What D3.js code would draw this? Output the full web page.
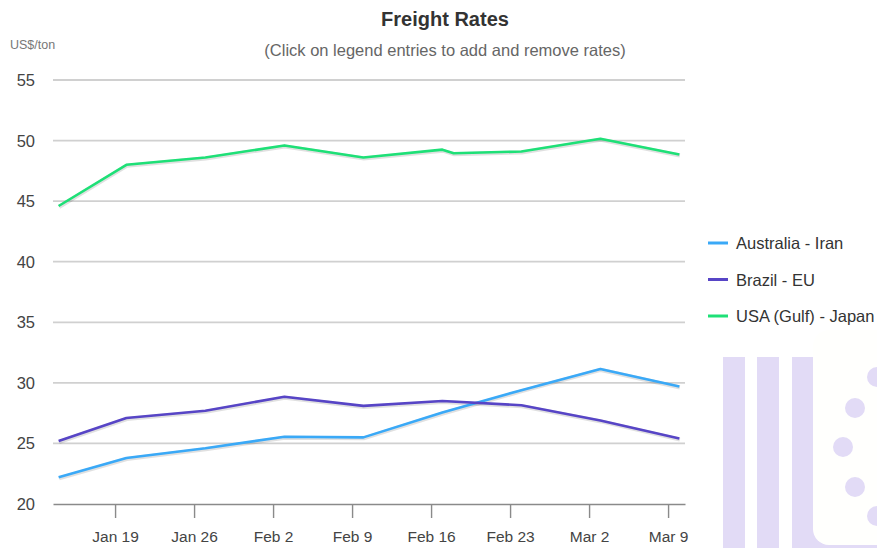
<!DOCTYPE html>
<html>
<head>
<meta charset="utf-8">
<script src="https://cdn.jsdelivr.net/npm/d3@7"></script>
<style>
  body { margin: 0; background: #fff; }
  svg { display: block; font-family: "Liberation Sans", Arial, sans-serif; }
</style>
</head>
<body>
<script>
// data (weekly freight rates, US$/ton)
const seriesNames = ["Australia - Iran", "Brazil - EU", "USA (Gulf) - Japan"]
const seriesColors = ["#3aa9f7", "#5745c6", "#1ee077"]

const weekDates = ["2025-01-14", "2025-01-20", "2025-01-27", "2025-02-03", "2025-02-10",
                   "2025-02-17", "2025-02-24", "2025-03-03", "2025-03-10"]
const usaDates = ["2025-01-14", "2025-01-20", "2025-01-27", "2025-02-03", "2025-02-10",
                  "2025-02-17", "2025-02-18", "2025-02-24", "2025-03-03", "2025-03-10"]

const australiaIran = [22.2, 23.8, 24.6, 25.55, 25.5, 27.55, 29.4, 31.15, 29.7]
const brazilEu = [25.2, 27.1, 27.7, 28.85, 28.1, 28.5, 28.15, 26.9, 25.4]
const usaJapan = [44.6, 48.0, 48.6, 49.6, 48.6, 49.25, 48.95, 49.1, 50.15, 48.85]

const yTicks = [20, 25, 30, 35, 40, 45, 50, 55]

const parse = d3.timeParse("%Y-%m-%d")
const zip = (dates, vals) => dates.map((d, i) => ({date: parse(d), value: vals[i]}))
const series = [
    {name: seriesNames[0], color: seriesColors[0], values: zip(weekDates, australiaIran)},
    {name: seriesNames[1], color: seriesColors[1], values: zip(weekDates, brazilEu)},
    {name: seriesNames[2], color: seriesColors[2], values: zip(usaDates, usaJapan)}
]

const w = 877
const h = 548
const plotLeft = 53, plotRight = 685, plotTop = 80, plotBottom = 504

const svg = d3.select("body").append("svg")
              .attr("width", w)
              .attr("height", h)

// watermark logo in the lower right corner
const logo = svg.append("g")
logo.selectAll("rect.bar")
    .data([723, 757, 792])
    .enter().append("rect")
    .attr("x", d => d).attr("y", 357)
    .attr("width", 22).attr("height", h - 357)
    .attr("fill", "#e2dbf6")
logo.append("rect").attr("x", 813).attr("y", 520).attr("width", 70).attr("height", 30).attr("fill", "#e2dbf6")
logo.append("rect").attr("x", 813).attr("y", 330).attr("width", 90).attr("height", 215)
    .attr("rx", 16).attr("fill", "#fffffd")
logo.selectAll("circle")
    .data([[877, 377], [855, 408], [843, 447], [855, 487], [877, 516]])
    .enter().append("circle")
    .attr("cx", d => d[0]).attr("cy", d => d[1]).attr("r", 10)
    .attr("fill", "#e2dbf6")

const allDates = weekDates.map(parse)
const x = d3.scaleTime()
            .domain([d3.timeHour.offset(allDates[0], -12), d3.timeHour.offset(allDates[allDates.length - 1], 12)])
            .range([plotLeft, plotRight])
const y = d3.scaleLinear()
            .domain([20, 55])
            .range([plotBottom, plotTop])

// gridlines
svg.append("g")
   .selectAll("line")
   .data(yTicks.filter(t => t !== 20))
   .enter().append("line")
   .attr("x1", plotLeft).attr("x2", plotRight)
   .attr("y1", d => y(d)).attr("y2", d => y(d))
   .attr("stroke", "#d0d0d0")
   .attr("stroke-width", 1.8)

// y labels
svg.append("g")
   .selectAll("text")
   .data(yTicks)
   .enter().append("text")
   .attr("x", 35)
   .attr("y", d => y(d) + 6)
   .attr("text-anchor", "end")
   .attr("font-size", 16.5)
   .attr("fill", "#444")
   .text(d => d)

// x axis
const xAxis = d3.axisBottom(x)
                .ticks(d3.timeWeek.every(1))
                .tickFormat(d3.timeFormat("%b %-d"))
                .tickSize(14)
                .tickSizeOuter(0)
const gx = svg.append("g")
              .attr("transform", "translate(0," + plotBottom + ")")
              .call(xAxis)
gx.select(".domain").attr("stroke", "#8a8a8a").attr("stroke-width", 1.6)
gx.selectAll(".tick line").attr("stroke", "#8a8a8a").attr("stroke-width", 1.4)
gx.selectAll(".tick text")
  .attr("font-size", 15.5)
  .attr("fill", "#444")
  .attr("dy", 0)
  .attr("y", 38)
  .attr("font-family", "Liberation Sans, Arial, sans-serif")

// lines
const line = d3.line()
               .x(d => x(d.date))
               .y(d => y(d.value))

const lines = svg.append("g")
lines.selectAll("path.shadow")
     .data(series)
     .enter().append("path")
     .attr("d", d => line(d.values))
     .attr("transform", "translate(0.5,1)")
     .attr("fill", "none")
     .attr("stroke", "#000")
     .attr("stroke-opacity", 0.12)
     .attr("stroke-width", 4)
lines.selectAll("path.series")
     .data(series)
     .enter().append("path")
     .attr("d", d => line(d.values))
     .attr("fill", "none")
     .attr("stroke", d => d.color)
     .attr("stroke-width", 2.6)
     .attr("stroke-linejoin", "round")

// titles
svg.append("text")
   .attr("x", 445).attr("y", 26)
   .attr("text-anchor", "middle")
   .attr("font-size", 20)
   .attr("font-weight", "bold")
   .attr("fill", "#333")
   .text("Freight Rates")
svg.append("text")
   .attr("x", 445).attr("y", 56)
   .attr("text-anchor", "middle")
   .attr("font-size", 16.5)
   .attr("fill", "#666")
   .text("(Click on legend entries to add and remove rates)")
svg.append("text")
   .attr("x", 10).attr("y", 49)
   .attr("font-size", 12.5)
   .attr("fill", "#777")
   .text("US$/ton")

// legend
const legend = svg.append("g")
                  .selectAll("g")
                  .data(series)
                  .enter().append("g")
                  .attr("transform", (d, i) => "translate(708," + (243 + i * 36.5) + ")")
legend.append("line")
      .attr("x1", 0).attr("x2", 20)
      .attr("stroke", d => d.color)
      .attr("stroke-width", 3)
legend.append("text")
      .attr("x", 28).attr("y", 6)
      .attr("font-size", 16.5)
      .attr("fill", "#333")
      .text(d => d.name)
</script>
</body>
</html>
